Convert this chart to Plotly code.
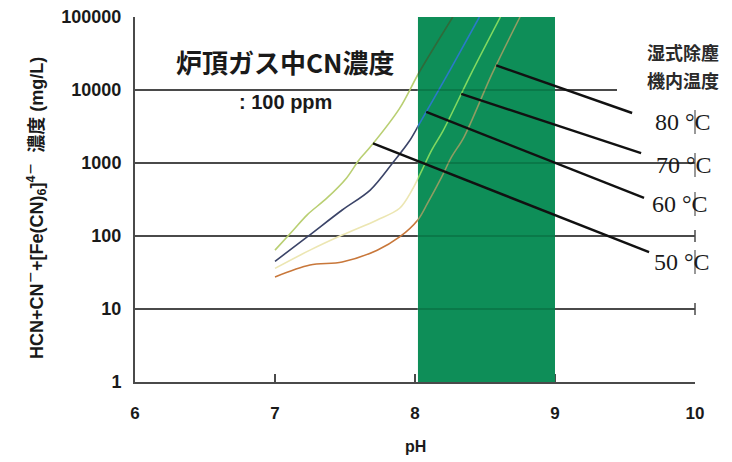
import numpy as np
import plotly.graph_objects as go

# ---- data: total cyanide concentration (mg/L) vs pH, per scrubber temperature ----
ph_50 = [7.00, 7.13, 7.23, 7.37, 7.51, 7.60, 7.68, 7.89, 8.03, 8.27]
cn_50 = [64, 120, 195, 330, 620, 1100, 1650, 5600, 17500, 100000]

ph_60 = [7.00, 7.23, 7.48, 7.68, 7.84, 7.96, 8.03, 8.25, 8.46]
cn_60 = [45, 97, 227, 426, 1000, 2000, 3400, 18700, 100000]

ph_70 = [7.00, 7.25, 7.48, 7.73, 7.89, 7.98, 8.05, 8.12, 8.20, 8.40, 8.61]
cn_70 = [36, 64, 103, 166, 240, 430, 800, 1510, 2750, 16600, 100000]

ph_80 = [7.00, 7.25, 7.48, 7.73, 7.89, 8.02, 8.09, 8.19, 8.26, 8.35, 8.55, 8.75]
cn_80 = [27.5, 40, 44, 64, 97, 166, 282, 640, 1200, 2270, 16600, 100000]

temp_labels = ["50 °C", "60 °C", "70 °C", "80 °C"]
x_ticks = [6, 7, 8, 9, 10]
y_ticks = [1, 10, 100, 1000, 10000, 100000]
y_ticktext = ["1", "10", "100", "1000", "10000", "100000"]

# operating pH band
band_ph = (8.02, 9.0)

# ---- styling ----
W, H = 732, 462
ML, MR, MT, MB = 135, 37, 17, 80
PW, PH = W - ML - MR, H - MT - MB
BAND_COLOR = "#0e8e58"
colors_out = ["#b9cf72", "#3b4468", "#ece6b2", "#c8773a"]
colors_in = ["#2f6a3a", "#2a7ac8", "#80d860", "#8e9c62"]
JP = "Noto Sans CJK JP"
SANS = "Liberation Sans"
SERIF = "Liberation Serif"
INK = "#1a1a1a"


def xp(ph):
    return (ph - 6) / 4.0


def yp(v):
    return np.log10(v) / 5.0


def dpx(p):
    # pixel offset -> paper fraction (vertical)
    return p / PH


curves = [(ph_50, cn_50), (ph_60, cn_60), (ph_70, cn_70), (ph_80, cn_80)]
line_style = dict(width=1.6, shape="spline", smoothing=0.9)

fig = go.Figure()

# curves outside the band (base colours)
for (xs, ys), c in zip(curves, colors_out):
    fig.add_trace(go.Scatter(x=xs, y=ys, mode="lines", line=dict(color=c, **line_style),
                             xaxis="x", yaxis="y", showlegend=False, hoverinfo="skip"))

# band subplot: green fill, then the same curves seen through the band
fig.add_trace(go.Scatter(x=[band_ph[0], band_ph[1], band_ph[1], band_ph[0], band_ph[0]],
                         y=[1, 1, 1e5, 1e5, 1], mode="lines", fill="toself",
                         fillcolor=BAND_COLOR, line=dict(width=0, color=BAND_COLOR),
                         xaxis="x2", yaxis="y2", showlegend=False, hoverinfo="skip"))
for (xs, ys), c in zip(curves, colors_in):
    fig.add_trace(go.Scatter(x=xs, y=ys, mode="lines", line=dict(color=c, **line_style),
                             xaxis="x2", yaxis="y2", showlegend=False, hoverinfo="skip"))

shapes = []
# horizontal grid lines with individual right ends
grid_end = {10: 1.0, 100: 1.0, 1000: 1.0, 10000: (617 - ML) / PW}
for v, xe in grid_end.items():
    shapes.append(dict(type="line", xref="paper", yref="paper", x0=0, x1=xe,
                       y0=yp(v), y1=yp(v), line=dict(color="#4a4a4a", width=2), layer="below"))
    shapes.append(dict(type="line", xref="paper", yref="paper", x0=xp(band_ph[0]), x1=xp(band_ph[1]),
                       y0=yp(v), y1=yp(v), line=dict(color="rgba(0,50,25,0.45)", width=1), layer="above"))
# small end ticks on the right edge
for v in (10, 100):
    shapes.append(dict(type="line", xref="paper", yref="paper", x0=1, x1=1,
                       y0=yp(v) - dpx(6), y1=yp(v) + dpx(6), line=dict(color="#4a4a4a", width=1.5)))

# leader lines from the curves to the temperature labels
leader_start_ph = [7.70, 8.08, 8.33, 8.58]
leader_end = [(9.672, 60), (9.636, 332), (9.615, 1370), (9.551, 4840)]
label_pos = [(9.907, 44), (9.893, 274), (9.921, 940), (9.914, 3650)]
for (xs, ys), sp, (ex, ey) in zip(curves, leader_start_ph, leader_end):
    sv = 10 ** np.interp(sp, xs, np.log10(ys))
    shapes.append(dict(type="line", xref="paper", yref="paper", x0=xp(sp), y0=yp(sv),
                       x1=xp(ex), y1=yp(ey), line=dict(color="#111111", width=2.4), layer="above"))

annotations = []
for txt, (lx, lv) in zip(temp_labels, label_pos):
    annotations.append(dict(text=txt, xref="paper", yref="paper", x=xp(lx), y=yp(lv),
                            xanchor="center", yanchor="middle", showarrow=False,
                            font=dict(family=SERIF, size=24, color=INK)))
    shapes.append(dict(type="line", xref="paper", yref="paper", x0=1, x1=1,
                       y0=yp(lv) - dpx(12), y1=yp(lv) + dpx(12),
                       line=dict(color="#555555", width=1.2)))

annotations += [
    dict(text="炉頂ガス中CN濃度", xref="paper", yref="paper", x=(285 - ML) / PW, y=0.877,
         xanchor="center", yanchor="middle", showarrow=False,
         font=dict(family=JP, size=26, color=INK, weight="bold")),
    dict(text=": 100 ppm", xref="paper", yref="paper", x=(285 - ML) / PW, y=0.767,
         xanchor="center", yanchor="middle", showarrow=False,
         font=dict(family=SANS, size=20, color=INK, weight="bold")),
    dict(text="湿式除塵", xref="paper", yref="paper", x=(683 - ML) / PW, y=0.904,
         xanchor="center", yanchor="middle", showarrow=False,
         font=dict(family=JP, size=18, color="#2a2a2a", weight="bold")),
    dict(text="機内温度", xref="paper", yref="paper", x=(683 - ML) / PW, y=0.827,
         xanchor="center", yanchor="middle", showarrow=False,
         font=dict(family=JP, size=18, color="#2a2a2a", weight="bold")),
    dict(text="HCN+CN<sup>－</sup>+[Fe(CN)<sub>6</sub>]<sup>4－</sup>  濃度 (mg/L)",
         xref="paper", yref="paper", x=(37 - ML) / PW, y=(382 - 208) / PH, textangle=-90,
         xanchor="center", yanchor="middle", showarrow=False,
         font=dict(family=SANS + ", " + JP, size=18, color=INK, weight="bold")),
    dict(text="pH", xref="paper", yref="paper", x=0.5, y=-dpx(64),
         xanchor="center", yanchor="middle", showarrow=False,
         font=dict(family=SANS, size=16, color=INK, weight="bold")),
]

fig.update_layout(
    width=W, height=H,
    margin=dict(l=ML, r=MR, t=MT, b=MB, autoexpand=False),
    paper_bgcolor="white", plot_bgcolor="white",
    showlegend=False,
    xaxis=dict(domain=[0, 1], range=[6, 10], tickvals=x_ticks, ticks="inside", ticklen=8,
               tickwidth=1.5, tickcolor="#4a4a4a", showline=True, linecolor="#4a4a4a",
               linewidth=2, showgrid=False, zeroline=False, layer="below traces",
               ticklabelstandoff=15, fixedrange=True,
               tickfont=dict(family=SANS, size=17, color=INK, weight="bold")),
    yaxis=dict(type="log", range=[0, 5], tickvals=y_ticks, ticktext=y_ticktext,
               ticks="inside", ticklen=7, tickwidth=1.5, tickcolor="#4a4a4a",
               showline=True, linecolor="#4a4a4a", linewidth=2, showgrid=False,
               zeroline=False, ticklabelstandoff=8, fixedrange=True,
               tickfont=dict(family=SANS, size=18, color=INK, weight="bold")),
    xaxis2=dict(domain=[xp(band_ph[0]), xp(band_ph[1])], range=list(band_ph), anchor="y2",
                visible=False, fixedrange=True),
    yaxis2=dict(domain=[0, 1], type="log", range=[0, 5], anchor="x2", visible=False,
                fixedrange=True),
    shapes=shapes,
    annotations=annotations,
)

fig.write_html("out.html")
